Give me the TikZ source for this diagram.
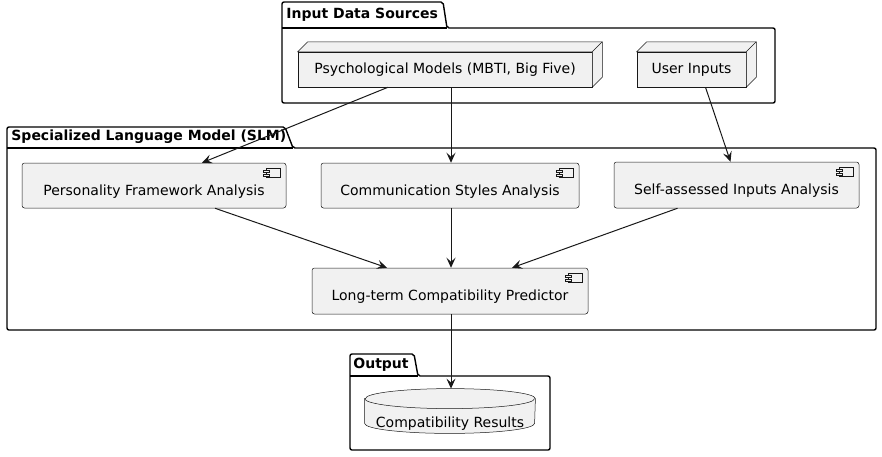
\documentclass[tikz,border=0pt]{standalone}
\usepackage{fontspec}
\setmainfont{DejaVu Sans}
\usetikzlibrary{positioning,arrows.meta,backgrounds}

\definecolor{umlfill}{HTML}{F1F1F1}
\definecolor{umlline}{HTML}{181818}

\begin{document}
\begin{tikzpicture}[x=1pt, y=-1pt, thick,
  every node/.style = {font = \fontsize{14}{16}\selectfont},
  box/.style = {rectangle, draw=umlline, fill=umlfill, line width=0.5pt,
    inner sep=0pt, align=center},
  nodebox/.style = {box},
  compbox/.style = {box, rounded corners=2.5pt, text height=19pt, text depth=0pt},
  dbbox/.style = {rectangle, inner sep=0pt, text height=38pt, text depth=6pt},
  pkg/.style = {draw=black, line width=1.4pt, rounded corners=2pt},
  pkglabel/.style = {anchor=west, inner sep=0pt, font=\fontsize{14}{16}\selectfont\bfseries},
  flow/.style = {draw=umlline, line width=1pt, -{Stealth[length=10pt, width=9pt, inset=4pt]}}]

  \useasboundingbox (0,0) rectangle (882,456);

  % packages
  \draw[pkg] (282,103) -- (282,2) -- (443,2) -- (447,28) -- (775,28) -- (775,103) -- cycle;
  \draw[pkg] (282,28) -- (447,28);
  \node[pkglabel] (srclabel) at (286,15) {Input Data Sources};

  \draw[pkg] (7,330) -- (7,127) -- (285,127) -- (293,148) -- (876,148) -- (876,330) -- cycle;
  \draw[pkg] (7,148) -- (293,148);
  \node[pkglabel] (slmlabel) at (11,137) {Specialized Language Model (SLM)};

  \draw[pkg] (350,450) -- (350,354) -- (414,354) -- (418,376) -- (550,376) -- (550,450) -- cycle;
  \draw[pkg] (350,376) -- (418,376);
  \node[pkglabel] (outlabel) at (353,365) {Output};

  % input nodes
  \node[nodebox, minimum width=294pt, minimum height=35pt] (psych) at (445,69.5)
    {Psychological Models (MBTI, Big Five)};
  \node[nodebox, minimum width=109pt, minimum height=35pt] (user) at (691.5,69.5)
    {User Inputs};
  \foreach \n in {psych,user} {
    \draw[box] (\n.north west) -- ++(10pt,10pt) -- ([shift={(10pt,10pt)}]\n.north east)
      -- ([shift={(10pt,10pt)}]\n.south east) -- (\n.south east) -- (\n.north east) -- cycle;
    \draw[umlline, line width=0.5pt] (\n.north east) -- ++(10pt,10pt);
  }

  % components
  \node[compbox, minimum width=264pt, minimum height=45pt] (pers) at (154,185.5)
    {Personality Framework Analysis};
  \node[compbox, minimum width=258pt, minimum height=45pt] (comm) at (450,185.5)
    {Communication Styles Analysis};
  \node[compbox, minimum width=245pt, minimum height=46pt] (self) at (736.5,185)
    {Self-assessed Inputs Analysis};
  \node[compbox, minimum width=276pt, minimum height=46pt] (ltcp) at (450,291)
    {Long-term Compatibility Predictor};
  \foreach \n in {pers,comm,self,ltcp} {
    \draw[box] ([shift={(-20pt,-5pt)}]\n.north east) rectangle ([shift={(-6pt,-14pt)}]\n.north east);
    \draw[box] ([shift={(-23pt,-7pt)}]\n.north east) rectangle ([shift={(-17pt,-9.5pt)}]\n.north east);
    \draw[box] ([shift={(-23pt,-11pt)}]\n.north east) rectangle ([shift={(-17pt,-13.5pt)}]\n.north east);
  }

  % output
  \node[dbbox, minimum width=170pt, minimum height=44pt] (db) at (450,411) {Compatibility Results};
  \begin{scope}[on background layer]
    \draw[box] ([yshift=-10pt]db.north west) -- ([yshift=10pt]db.south west)
      arc[start angle=180, end angle=360, x radius=85pt, y radius=10pt]
      -- ([yshift=-10pt]db.north east)
      arc[start angle=0, end angle=180, x radius=85pt, y radius=10pt] -- cycle;
    \draw[umlline, line width=0.5pt] ([yshift=-10pt]db.north west)
      arc[start angle=180, end angle=360, x radius=85pt, y radius=10pt];
  \end{scope}

  % connectors
  \draw[flow] ([xshift=-57pt]psych.south) -- ([xshift=48pt]pers.north);
  \draw[flow] ([xshift=6pt]psych.south) -- ([xshift=1pt]comm.north);
  \draw[flow] ([xshift=14pt]user.south) -- ([xshift=-6pt]self.north);
  \draw[flow] ([xshift=61pt]pers.south) -- ([xshift=-63pt]ltcp.north);
  \draw[flow] ([xshift=1pt]comm.south) -- ([xshift=1pt]ltcp.north);
  \draw[flow] ([xshift=-59pt]self.south) -- ([xshift=62pt]ltcp.north);
  \draw[flow] ([xshift=1pt]ltcp.south) -- ([xshift=1pt]db.north);

\end{tikzpicture}
\end{document}
